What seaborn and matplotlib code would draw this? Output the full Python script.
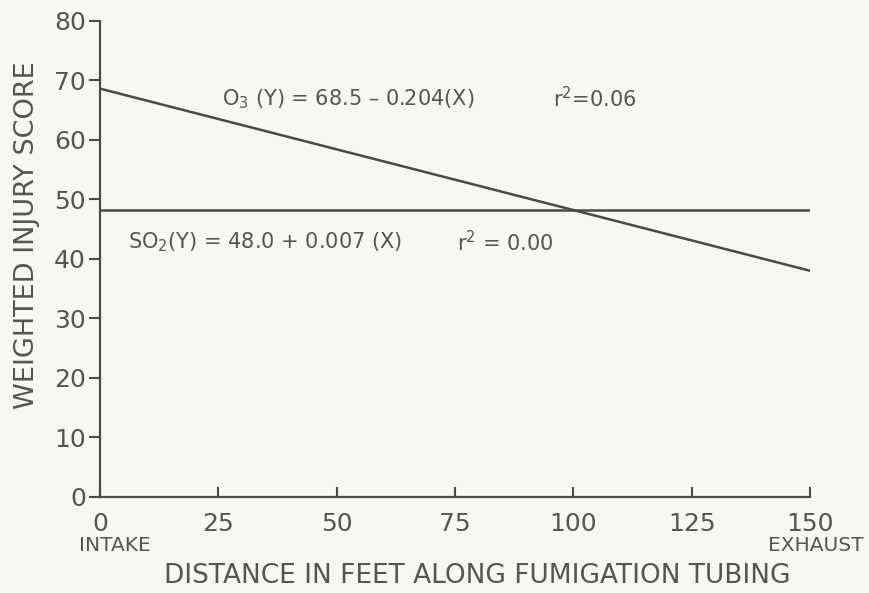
import pandas as pd
import matplotlib
matplotlib.use("Agg")
from matplotlib import pyplot as plt
import seaborn as sns

# regression line endpoints
distance = [0, 150]
o3_score = [68.6, 38.0]
so2_score = [48.2, 48.2]

x_ticks = [0, 25, 50, 75, 100, 125, 150]
y_ticks = [0, 10, 20, 30, 40, 50, 60, 70, 80]

INK = '#4a4a4a'
TEXT = '#555555'
PAPER = '#f8f7f3'

sns.set_style('white')
plt.rcParams['font.family'] = ['DejaVu Sans']

fig = plt.figure(figsize=(8.69, 5.93), dpi=100, facecolor=PAPER)
ax = fig.add_axes([0.115, 0.162, 0.817, 0.803])
ax.set_facecolor(PAPER)

df = pd.DataFrame({'distance': distance, 'o3': o3_score, 'so2': so2_score})
sns.lineplot(data=df, x='distance', y='o3', color=INK, linewidth=1.8, ax=ax)
sns.lineplot(data=df, x='distance', y='so2', color=INK, linewidth=1.8, ax=ax)

ax.set_xlim(0, 150)
ax.set_ylim(0, 80)
ax.set_xticks(x_ticks)
ax.set_yticks(y_ticks)
ax.set_xticklabels([str(t) for t in x_ticks])
ax.set_yticklabels([str(t) for t in y_ticks])
sns.despine(ax=ax)
for side in ['left', 'bottom']:
    ax.spines[side].set_color(INK)
    ax.spines[side].set_linewidth(1.6)

ax.tick_params(axis='y', direction='out', length=8, width=1.5, color=INK,
               labelsize=18, labelcolor=TEXT, pad=2, left=True)
ax.tick_params(axis='x', direction='in', length=7, width=1.5, color=INK,
               labelsize=18, labelcolor=TEXT, pad=11, bottom=True)

ax.set_xlabel('DISTANCE IN FEET ALONG FUMIGATION TUBING', fontsize=19,
              color=TEXT, labelpad=19)
ax.set_ylabel('WEIGHTED INJURY SCORE', fontsize=19.5, color=TEXT, labelpad=10)
ax.xaxis.label.set_x(0.532)
ax.yaxis.label.set_y(0.55)

ax.text(25.8, 66.9, r'O$_3$ (Y) = 68.5 – 0.204(X)', fontsize=15, color=TEXT, va='center')
ax.text(95.7, 66.9, r'r$^2$=0.06', fontsize=15, color=TEXT, va='center')
ax.text(5.9, 42.8, r'SO$_2$(Y) = 48.0 + 0.007 (X)', fontsize=15, color=TEXT, va='center')
ax.text(75.4, 42.8, r'r$^2$ = 0.00', fontsize=15, color=TEXT, va='center')

ax.annotate('INTAKE', xy=(0, 0), xytext=(11, -35), textcoords='offset points',
            ha='center', va='center', fontsize=14.5, color=TEXT)
ax.annotate('EXHAUST', xy=(150, 0), xytext=(4, -35), textcoords='offset points',
            ha='center', va='center', fontsize=14.5, color=TEXT)

fig.savefig('out.png', dpi=100, facecolor=PAPER)
